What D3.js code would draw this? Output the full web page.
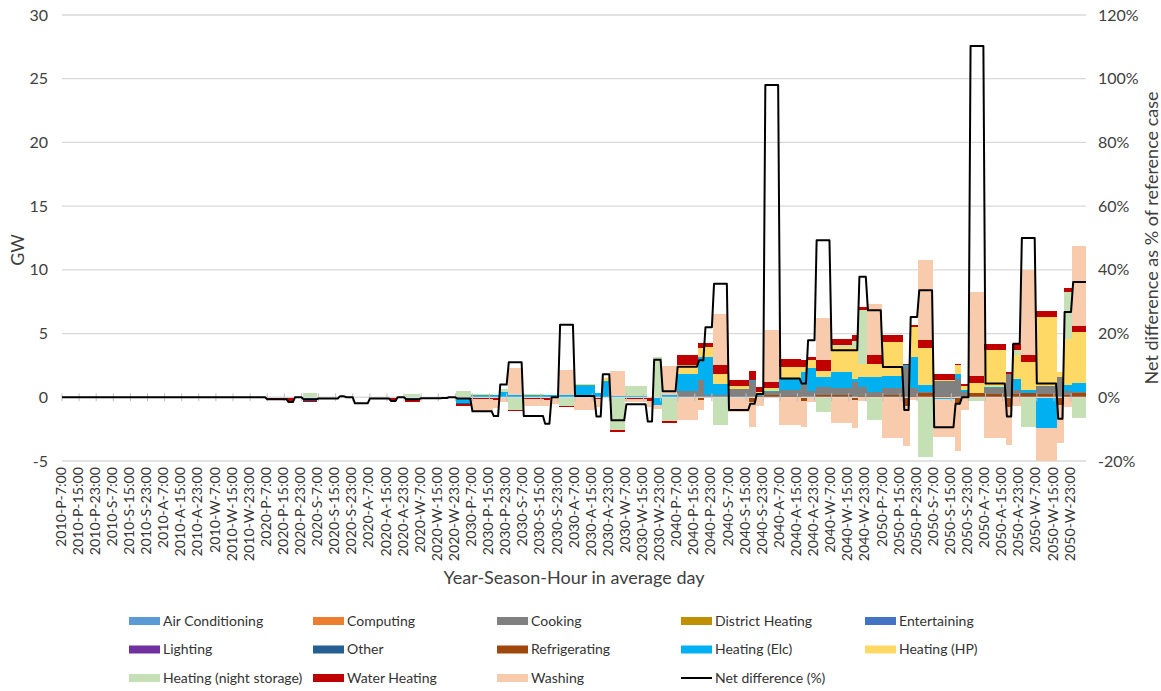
<!DOCTYPE html>
<html>
<head>
<meta charset="utf-8">
<script src="https://cdn.jsdelivr.net/npm/d3@7"></script>
<style>
  body { margin: 0; background: #fff; }
  svg { font-family: Lato, "Open Sans", sans-serif; }
</style>
</head>
<body>
<svg id="chart" width="1161" height="691"></svg>
<script>
// categories: year / season / hour of the average day (starts at 7:00)
const years = ["2010", "2020", "2030", "2040", "2050"];
const seasons = ["P", "S", "A", "W"];
const hoursOfDay = ["7:00","8:00","9:00","10:00","11:00","12:00","13:00","14:00","15:00","16:00","17:00","18:00",
                    "19:00","20:00","21:00","22:00","23:00","0:00","1:00","2:00","3:00","4:00","5:00","6:00"];
// time slices inside each season: day, peak, evening, night (number of hours each)
const slices = ["D", "P", "E", "N"];
const sliceHours = [10, 3, 4, 7];

// GW per time slice, order: year > season(P,S,A,W) > slice(D,P,E,N)
const zero16 = [0,0,0,0, 0,0,0,0, 0,0,0,0, 0,0,0,0];
const airConditioning = [...zero16, ...zero16, ...zero16, ...zero16, ...zero16];
const computing       = [...zero16, ...zero16, ...zero16, ...zero16, ...zero16];
const districtHeating = [...zero16, ...zero16, ...zero16, ...zero16, ...zero16];
const entertaining    = [...zero16, ...zero16, ...zero16, ...zero16, ...zero16];
const lighting        = [...zero16, ...zero16, ...zero16, ...zero16, ...zero16];
const other = [
  ...zero16,
  0,0,0,-0.15, 0,0,0,0, 0,0,0,-0.05, 0,0,0,-0.1,
  ...zero16, ...zero16, ...zero16
];
const refrigerating = [
  ...zero16, ...zero16, ...zero16,
  0.05,-0.2,0,0.05, 0.05,-0.35,0.1,0.15, 0.1,-0.3,0.05,0.15, 0.15,-0.2,0.1,0.1,
  0.15,-0.7,0.1,0.35, 0.1,-0.5,0.1,0.3, 0.25,-0.75,0.25,0.3, 0.25,-0.6,0.2,0.3
];
const cooking = [
  ...zero16, ...zero16, ...zero16,
  0.45,1.35,0.15,0.1, 0.6,1.3,0,0.25, 0.45,1.1,0.45,0.65, 0.55,1.2,0.7,0.3,
  0.6,2.4,0.6,0.05, 1.15,1.45,0.3,0, 0.45,1.85,0.3,0, 0.6,1.6,0.3,0.1
];
const heatingElc = [
  ...zero16,
  0,0,0,-0.15, 0,0,0,0, 0,0,0,-0.15, 0,0,0,-0.45,
  0.2,0.2,0.42,0.2, 0.2,0.15,0.2,0.15, 1.0,0.3,1.3,0.1, 0.1,0,-0.6,0.15,
  1.3,1.85,3.0,0.9, 0,0.05,0.15,0.1, 0.95,0.9,1.8,0.8, 1.3,0.2,0.8,1.2,
  0.95,0.1,2.5,0.55, -0.15,0.4,0.2,0.05, 0.1,0,0.85,0.25, -2.4,0,0.5,0.7
];
const heatingHP = [
  ...zero16, ...zero16,
  0.08,0,0,0, 0.08,0,0,0, 0.08,0,0.2,0, 0,0,0,0,
  0.7,0.65,0.8,0.8, 0.25,0,0.2,0.2, 0.9,0.35,0.6,0.5, 1.95,2.5,1.05,1.05,
  2.6,0,2.3,2.9, 0.1,0.65,0.3,0.8, 2.9,0,1.9,2.25, 5.45,0.4,3.6,4.0
];
const nightStorage = [
  ...zero16,
  0,0,0,0.3, 0,0,0,0, 0,0,0,0.25, 0,0,0,0.5,
  0,0,0.26,-1.0, 0,0,0,-0.7, 0,0,0,-2.6, 0.75,0,3.2,-1.9,
  0,0,0,-2.2, 0,0,0,0, 0,0,0,-1.15, 0.15,0.5,4.2,-1.8,
  0,0,0,-4.7, 0,0,0,-0.3, 0,0,0.4,-2.3, 0,0,3.65,-1.65
];
const waterHeating = [
  ...zero16,
  -0.1,-0.3,0,-0.1, -0.1,0,0,-0.05, -0.1,-0.3,0,-0.2, -0.05,-0.15,0,-0.1,
  -0.15,-0.25,0,-0.1, -0.1,-0.25,-0.05,-0.1, 0,-0.1,0,-0.1, -0.15,-0.3,0,-0.1,
  0.85,0.4,0.3,0.65, 0.45,0.7,0.35,0.5, 0.6,0.6,0.3,0.8, 0.5,0.45,0.25,0.65,
  0.55,0.1,0.2,0.65, 0.5,0.15,0.15,0.55, 0.5,0.15,0.5,0.5, 0.5,0,0.3,0.5
];
const washing = [
  ...zero16, ...zero16,
  -0.9,-0.6,-0.35,2.1, -0.55,-0.4,-0.45,2.0, -1.0,-0.7,0,2.0, -0.25,-0.5,-0.3,2.3,
  -1.8,-0.8,0,4.05, -1.15,-2.0,-0.7,4.05, -2.2,-2.0,-0.4,3.3, -2.0,-2.2,-0.3,4.0,
  -3.2,-3.1,-0.2,6.3, -3.0,-3.7,-1.0,6.55, -3.2,-3.0,-0.7,6.65, -2.6,-3.0,-0.8,6.25
];
// net difference, % of reference case
const netDifference = [
  ...zero16,
  -0.6,-1.5,0,-0.6, -0.4,0.3,0,-1.9, -0.4,-1.2,0,-0.6, -0.3,-0.2,0,-0.4,
  -4.4,-5.9,4,11, -5.9,-8.3,0,22.8, 0.4,-6,7.2,-7.2, -2.2,-7.6,11.8,1.9,
  9.6,11.6,22,35.6, -4,-2,1,98, 5.9,4.3,17.9,49.3, 14.8,14.8,37.8,27.3,
  9.5,-4,25.2,33.6, -9.4,-2,0,110.3, 4.3,-6,16.8,50, 4.3,-6.7,26.8,36.2
];

const seriesNames = ["Air Conditioning","Computing","Cooking","District Heating","Entertaining",
  "Lighting","Other","Refrigerating","Heating (Elc)","Heating (HP)",
  "Heating (night storage)","Water Heating","Washing"];
const seriesValues = {
  "Air Conditioning": airConditioning, "Computing": computing, "Cooking": cooking,
  "District Heating": districtHeating, "Entertaining": entertaining, "Lighting": lighting,
  "Other": other, "Refrigerating": refrigerating, "Heating (Elc)": heatingElc,
  "Heating (HP)": heatingHP, "Heating (night storage)": nightStorage,
  "Water Heating": waterHeating, "Washing": washing
};
const colors = {
  "Air Conditioning": "#5b9bd5", "Computing": "#ed7d31", "Cooking": "#808080",
  "District Heating": "#bf9000", "Entertaining": "#4472c4", "Lighting": "#7030a0",
  "Other": "#255e91", "Refrigerating": "#9e480e", "Heating (Elc)": "#00b0f0",
  "Heating (HP)": "#ffd966", "Heating (night storage)": "#c5e0b4",
  "Water Heating": "#c00000", "Washing": "#f8cbad"
};
// stacking order from the zero line outwards
const stackOrder = ["Air Conditioning","Computing","District Heating","Entertaining","Lighting",
  "Refrigerating","Cooking","Heating (Elc)","Other","Heating (HP)",
  "Heating (night storage)","Water Heating","Washing"];

// hourly categories
const hourCats = [];
years.forEach(y => seasons.forEach(s => hoursOfDay.forEach(h => hourCats.push(`${y}-${s}-${h}`))));

// one row per time slice, with its first and last hour
const rows = [];
let hour = 0;
years.forEach(() => seasons.forEach(() => slices.forEach((sl, k) => {
  const i = rows.length;
  const row = { start: hour, end: hour + sliceHours[k] - 1, net: netDifference[i] };
  seriesNames.forEach(n => row[n] = seriesValues[n][i]);
  rows.push(row);
  hour += sliceHours[k];
})));

const svg = d3.select("#chart");
const plotLeft = 62, plotRight = 1086, plotTop = 15, plotBottom = 461;
const x = d3.scalePoint().domain(hourCats).range([plotLeft, plotRight]);
const step = x.step();
const y = d3.scaleLinear().domain([-5, 30]).range([plotBottom, plotTop]);
const y2 = d3.scaleLinear().domain([-20, 120]).range([plotBottom, plotTop]);
const textColor = "#404040";

// gridlines
svg.append("g").selectAll("line").data(y.ticks(7)).join("line")
  .attr("x1", plotLeft).attr("x2", plotRight)
  .attr("y1", d => y(d)).attr("y2", d => y(d))
  .attr("stroke", "#d9d9d9").attr("stroke-width", 1.3);

svg.append("clipPath").attr("id", "plot").append("rect")
  .attr("x", plotLeft).attr("y", plotTop).attr("width", plotRight - plotLeft).attr("height", plotBottom - plotTop);

// stacked columns (gap width 0), positives up, negatives down
const stacked = d3.stack().keys(stackOrder).offset(d3.stackOffsetDiverging)(rows);
svg.append("g").attr("clip-path", "url(#plot)")
  .selectAll("g").data(stacked).join("g")
  .attr("fill", d => colors[d.key])
  .selectAll("rect").data(d => d.filter(p => p[1] !== p[0])).join("rect")
  .attr("shape-rendering", "crispEdges")
  .attr("x", d => x(hourCats[d.data.start]) - step / 2)
  .attr("width", d => x(hourCats[d.data.end]) - x(hourCats[d.data.start]) + step)
  .attr("y", d => y(d[1]))
  .attr("height", d => y(d[0]) - y(d[1]));

// horizontal axis at zero with tick marks every 8 hours
const labelCats = hourCats.filter((d, i) => i % 8 === 0);
svg.append("line").attr("x1", plotLeft).attr("x2", plotRight).attr("y1", y(0)).attr("y2", y(0))
  .attr("stroke", "#d9d9d9").attr("stroke-width", 1.3);
svg.append("g").selectAll("line").data(labelCats).join("line")
  .attr("x1", d => x(d)).attr("x2", d => x(d))
  .attr("y1", y(0) - 4).attr("y2", y(0) + 4)
  .attr("stroke", "#bfbfbf").attr("stroke-width", 1);

// tick labels along the bottom
svg.append("g").selectAll("text").data(labelCats).join("text")
  .attr("transform", d => `translate(${x(d)},${plotBottom + 6}) rotate(-90)`)
  .attr("text-anchor", "end").attr("dominant-baseline", "middle")
  .attr("font-size", 14.2).attr("fill", "#333").text(d => d);

// net difference line (secondary axis)
const linePts = [];
rows.forEach(r => {
  linePts.push([x(hourCats[r.start]), y2(r.net)]);
  linePts.push([x(hourCats[r.end]), y2(r.net)]);
});
svg.append("path").attr("d", d3.line()(linePts))
  .attr("fill", "none").attr("stroke", "#000").attr("stroke-width", 2)
  .attr("stroke-linejoin", "round");

// left axis labels
svg.append("g").selectAll("text").data(y.ticks(7)).join("text")
  .attr("x", 48).attr("y", d => y(d)).attr("dy", "0.35em")
  .attr("text-anchor", "end").attr("font-size", 16).attr("fill", textColor)
  .text(d => d);
// right axis labels
svg.append("g").selectAll("text").data(y2.ticks(7)).join("text")
  .attr("x", 1098).attr("y", d => y2(d)).attr("dy", "0.35em")
  .attr("text-anchor", "start").attr("font-size", 16).attr("fill", textColor)
  .text(d => d + "%");

// axis titles
svg.append("text").attr("transform", `translate(24,${(plotTop + plotBottom) / 2 + 12}) rotate(-90)`)
  .attr("text-anchor", "middle").attr("font-size", 18).attr("fill", textColor).text("GW");
svg.append("text").attr("transform", `translate(1158,238) rotate(-90)`)
  .attr("text-anchor", "middle").attr("font-size", 18).attr("fill", textColor)
  .text("Net difference as % of reference case");
svg.append("text").attr("x", 574).attr("y", 584)
  .attr("text-anchor", "middle").attr("font-size", 18).attr("fill", textColor)
  .text("Year-Season-Hour in average day");

// legend
const legendItems = [...seriesNames, "Net difference (%)"];
const legend = svg.append("g").selectAll("g").data(legendItems).join("g")
  .attr("transform", (d, i) => `translate(${129 + (i % 5) * 184},${621 + Math.floor(i / 5) * 28.5})`);
legend.each(function(d) {
  const g = d3.select(this);
  if (colors[d]) {
    g.append("rect").attr("x", 0).attr("y", -4).attr("width", 31).attr("height", 8).attr("fill", colors[d]);
  } else {
    g.append("line").attr("x1", 0).attr("x2", 31).attr("y1", 0).attr("y2", 0)
      .attr("stroke", "#000").attr("stroke-width", 2);
  }
  g.append("text").attr("x", 34).attr("y", 0).attr("dy", "0.35em")
    .attr("font-size", 14).attr("fill", "#333").text(d);
});
</script>
</body>
</html>
